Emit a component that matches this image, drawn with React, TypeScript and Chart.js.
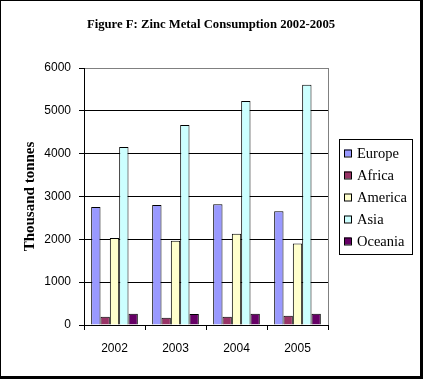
import React, { useEffect, useRef } from "react";
import { Chart, registerables } from "chart.js";

Chart.register(...registerables);

const years = ["2002", "2003", "2004", "2005"];
const europe = [2755, 2800, 2820, 2655];
const africa = [190, 170, 190, 215];
const america = [2030, 1965, 2130, 1900];
const asia = [4155, 4670, 5230, 5610];
const oceania = [262, 258, 262, 262];
const seriesNames = ["Europe", "Africa", "America", "Asia", "Oceania"];
const seriesColors = ["#9999FF", "#993366", "#FFFFCC", "#CCFFFF", "#660066"];
const yMax = 6000;
const yStep = 1000;
const titleText = "Figure F: Zinc Metal Consumption 2002-2005";
const yTitleText = "Thousand tonnes";

const W = 423;
const H = 379;

const framePlugin = {
  id: "frame",
  beforeDraw(chart: any) {
    const ctx = chart.ctx;
    ctx.save();
    ctx.fillStyle = "#ffffff";
    ctx.fillRect(0, 0, W, H);
    ctx.restore();
  },
  afterDraw(chart: any) {
    const ctx = chart.ctx;
    const a = chart.chartArea;
    ctx.save();
    ctx.strokeStyle = "#808080";
    ctx.lineWidth = 1;
    ctx.beginPath();
    ctx.moveTo(Math.round(a.right) + 0.5, a.top);
    ctx.lineTo(Math.round(a.right) + 0.5, a.bottom);
    ctx.stroke();
    ctx.fillStyle = "#000";
    ctx.font = "bold 12.7px 'Liberation Serif', 'Times New Roman', serif";
    ctx.textAlign = "center";
    ctx.textBaseline = "alphabetic";
    ctx.fillText(titleText, 211, 28);
    const lx = 339, ly = 139, lw = 73, lh = 115;
    ctx.strokeStyle = "#000";
    ctx.strokeRect(lx + 0.5, ly + 0.5, lw, lh);
    ctx.font = "14.5px 'Liberation Serif', 'Times New Roman', serif";
    ctx.textAlign = "left";
    seriesNames.forEach((name, i) => {
      const cy = 153 + i * 22;
      ctx.fillStyle = seriesColors[i];
      ctx.fillRect(344, cy - 3.5, 7, 7);
      ctx.strokeStyle = "#000";
      ctx.strokeRect(344.5, cy - 3.5 + 0.5, 7, 7);
      ctx.fillStyle = "#000";
      ctx.fillText(name, 357, cy + 5);
    });
    ctx.fillStyle = "#000";
    ctx.fillRect(0, 0, W, 1);
    ctx.fillRect(0, 0, 1, H);
    ctx.fillRect(420, 0, 3, H);
    ctx.fillRect(0, 376, W, 3);
    ctx.restore();
  },
};

export default function App() {
  const ref = useRef<HTMLCanvasElement | null>(null);
  useEffect(() => {
    document.body.style.margin = "0";
    const seriesData = [europe, africa, america, asia, oceania];
    const chart = new Chart(ref.current as HTMLCanvasElement, {
      type: "bar",
      data: {
        labels: years,
        datasets: seriesNames.map((n, i) => ({
          label: n,
          data: seriesData[i],
          backgroundColor: seriesColors[i],
          borderColor: "#000",
          borderWidth: 1,
          categoryPercentage: 0.765,
          barPercentage: 1,
        })),
      },
      options: {
        responsive: false,
        animation: false,
        devicePixelRatio: 1,
        layout: { padding: { left: 0, right: 95, top: 68, bottom: 0 } },
        plugins: {
          legend: { display: false },
          title: { display: false },
          tooltip: { enabled: false },
        },
        scales: {
          x: {
            grid: {
              offset: true,
              drawOnChartArea: false,
              drawTicks: true,
              tickLength: 5,
              color: "#000",
              tickColor: "#000",
            },
            border: { color: "#000", width: 1 },
            ticks: {
              color: "#000",
              padding: 11,
              font: { family: "'Liberation Sans', Arial, sans-serif", size: 12 },
            },
            afterFit: (s: any) => {
              s.height = 54;
            },
          },
          y: {
            min: 0,
            max: yMax,
            ticks: {
              stepSize: yStep,
              color: "#000",
              padding: 8,
              callback: (v: any) => String(v),
              font: { family: "'Liberation Sans', Arial, sans-serif", size: 12 },
            },
            grid: {
              color: (c: any) => (c.tick && c.tick.value === yMax ? "#808080" : "#000"),
              tickColor: "#000",
              tickLength: 5,
            },
            border: { color: "#000", width: 1 },
            title: {
              display: true,
              text: yTitleText,
              color: "#000",
              font: { family: "'Liberation Serif', 'Times New Roman', serif", size: 15, weight: "bold" },
              padding: { top: 21, bottom: 0 },
            },
            afterFit: (s: any) => {
              s.width = 84;
            },
          },
        },
      },
      plugins: [framePlugin],
    });
    return () => chart.destroy();
  }, []);
  return (
    <div style={{ width: W, height: H }}>
      <canvas ref={ref} width={W} height={H} style={{ display: "block", width: W, height: H }} />
    </div>
  );
}
